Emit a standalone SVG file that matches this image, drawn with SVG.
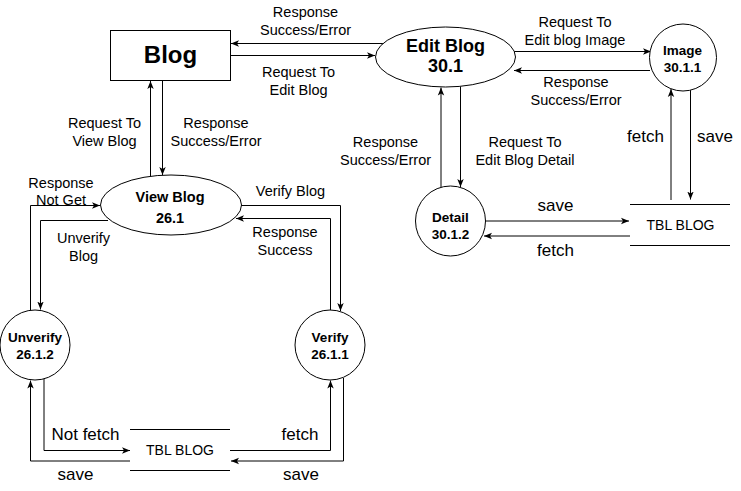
<svg xmlns="http://www.w3.org/2000/svg" width="741" height="491" viewBox="0 0 741 491">
<style>
.n{fill:#fff;stroke:#000;stroke-width:1}
.c{fill:none;stroke:#000;stroke-width:1;marker-end:url(#a)}
.s{fill:none;stroke:#000;stroke-width:1}
text{font-family:"Liberation Sans",Arial,sans-serif;fill:#000;text-anchor:middle}
.l{font-size:14.5px}
.b{font-size:17px}
.t{font-size:14px}
.nb{font-weight:bold;font-size:13.5px}
</style>
<defs>
<marker id="a" viewBox="0 0 10 10" refX="10" refY="5" markerWidth="8" markerHeight="8" markerUnits="userSpaceOnUse" orient="auto">
<path d="M0,1 L10,5 L0,9 L2.5,5 z" fill="#000"/>
</marker>
</defs>
<rect width="741" height="491" fill="#fff"/>
<g id="connectors">
<path class="c" d="M383,43.5 H231"/>
<path class="c" d="M230.5,55.5 H375"/>
<path class="c" d="M514,51.5 H651"/>
<path class="c" d="M650,70.5 H514"/>
<path class="c" d="M441,187 V87.5"/>
<path class="c" d="M460.5,86.5 V187"/>
<path class="c" d="M671,200 V89"/>
<path class="c" d="M690.5,90 V199.5"/>
<path class="c" d="M485.5,221 H629"/>
<path class="c" d="M630,236 H484"/>
<path class="c" d="M150.5,176 V81"/>
<path class="c" d="M162.5,81 V175"/>
<path class="c" d="M30.5,310 V205.5 H100"/>
<path class="c" d="M108,220.5 H40.5 V309.5"/>
<path class="c" d="M240.5,205.5 H340.5 V311"/>
<path class="c" d="M330.5,310 V218.5 H236"/>
<path class="c" d="M130,461 H30.5 V380.5"/>
<path class="c" d="M44,379 V450.5 H130"/>
<path class="c" d="M230,450.5 H330.5 V380.5"/>
<path class="c" d="M343.5,378 V461 H231"/>
</g>
<g id="blog">
<rect class="n" x="110.5" y="30.5" width="120" height="50"/>
<text x="170.5" y="63" style="font-size:24px;font-weight:bold">Blog</text>
</g>
<g id="editblog">
<ellipse class="n" cx="445.5" cy="57" rx="70" ry="30"/>
<text x="445.5" y="51.5" style="font-size:18px;font-weight:bold">Edit Blog</text>
<text x="445.5" y="72" style="font-size:18px;font-weight:bold">30.1</text>
</g>
<g id="image">
<circle class="n" cx="683" cy="57.5" r="33.5"/>
<text class="nb" x="682.5" y="55">Image</text>
<text class="nb" x="682.5" y="71.5">30.1.1</text>
</g>
<g id="detail">
<circle class="n" cx="450.5" cy="221" r="35"/>
<text class="nb" x="450.5" y="221.5">Detail</text>
<text class="nb" x="450.5" y="238.5">30.1.2</text>
</g>
<g id="tblblog1">
<path class="s" d="M630,204.5 H730 M630,245.5 H730"/>
<text class="t" x="680.5" y="230">TBL BLOG</text>
</g>
<g id="viewblog">
<ellipse class="n" cx="171" cy="205" rx="70.5" ry="30"/>
<text x="170" y="201.5" style="font-size:14.5px;font-weight:bold">View Blog</text>
<text x="170" y="222.5" style="font-size:14.5px;font-weight:bold">26.1</text>
</g>
<g id="unverify">
<circle class="n" cx="35" cy="345" r="35"/>
<text class="nb" x="35" y="341.5">Unverify</text>
<text class="nb" x="35" y="358.5">26.1.2</text>
</g>
<g id="verify">
<circle class="n" cx="330" cy="345" r="35"/>
<text class="nb" x="330" y="341.5">Verify</text>
<text class="nb" x="330" y="358.5">26.1.1</text>
</g>
<g id="tblblog2">
<path class="s" d="M130,429.5 H230 M130,470.5 H230"/>
<text class="t" x="180" y="455">TBL BLOG</text>
</g>
<g id="labels">
<text class="l" x="305.5" y="17">Response</text>
<text class="l" x="305.5" y="35">Success/Error</text>
<text class="l" x="298.5" y="76.5">Request To</text>
<text class="l" x="298.5" y="94.5">Edit Blog</text>
<text class="l" x="575" y="26.5">Request To</text>
<text class="l" x="575" y="44.5">Edit blog Image</text>
<text class="l" x="576" y="86.5">Response</text>
<text class="l" x="576" y="104.5">Success/Error</text>
<text class="l" x="385.5" y="147">Response</text>
<text class="l" x="385.5" y="165">Success/Error</text>
<text class="l" x="525" y="147">Request To</text>
<text class="l" x="525" y="165">Edit Blog Detail</text>
<text class="b" x="645.5" y="141.5">fetch</text>
<text class="b" x="715" y="141.5">save</text>
<text class="b" x="555.5" y="210.5">save</text>
<text class="b" x="555.5" y="256">fetch</text>
<text class="l" x="104.5" y="128">Request To</text>
<text class="l" x="104.5" y="146">View Blog</text>
<text class="l" x="216" y="128">Response</text>
<text class="l" x="216" y="146">Success/Error</text>
<text class="l" x="61" y="187.5">Response</text>
<text class="l" x="61" y="204.5">Not Get</text>
<text class="l" x="83.5" y="243">Unverify</text>
<text class="l" x="83.5" y="260.5">Blog</text>
<text class="l" x="290.5" y="196">Verify Blog</text>
<text class="l" x="285" y="237">Response</text>
<text class="l" x="285" y="254.5">Success</text>
<text class="b" x="85.5" y="440">Not fetch</text>
<text class="b" x="75.5" y="480">save</text>
<text class="b" x="300" y="440">fetch</text>
<text class="b" x="301" y="480">save</text>
</g>
</svg>
